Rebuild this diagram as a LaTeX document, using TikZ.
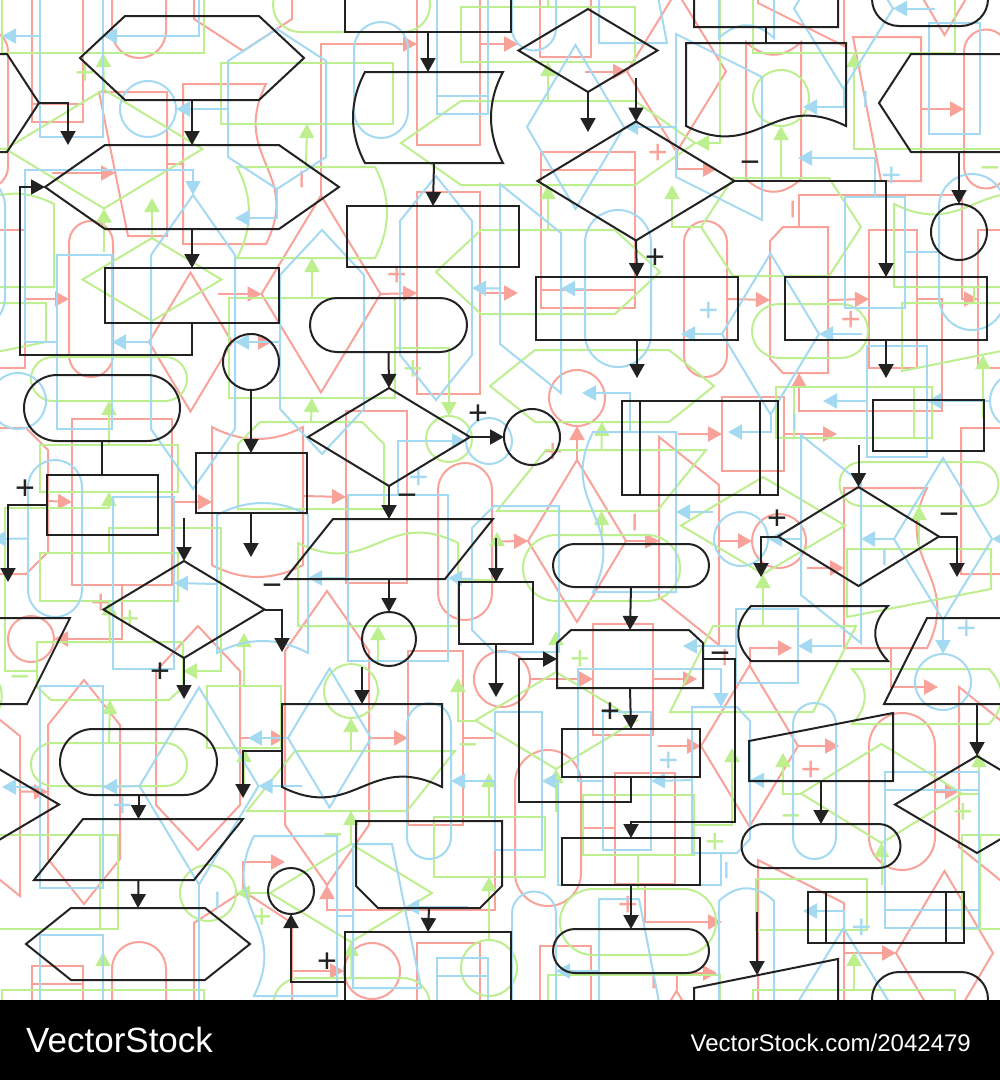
\documentclass[tikz,border=0pt]{standalone}
\usepackage{fontspec}
\usepackage{tikz}
\usetikzlibrary{shapes.geometric,shapes.misc,arrows.meta}
\newfontfamily\stockfont{Liberation Sans}
\definecolor{inkline}{HTML}{222222}
\definecolor{pinkline}{HTML}{F8A29A}
\definecolor{greenline}{HTML}{BEEF8F}
\definecolor{blueline}{HTML}{A4DAF1}

% one 1000 x 1000 tile of the pattern
\newcommand{\flowtile}{%
  % hexagons
  \node[slot={224}{84}] (hexTop) at (192,58) {};
  \draw[outline] (125,16) -- (259,16) -- (304,58) -- (259,100) -- (125,100) -- (80,58) -- cycle;
  \node[slot={294}{84}] (hexBig) at (192,187) {};
  \draw[outline] (105,145) -- (279,145) -- (339,187) -- (279,229) -- (105,229) -- (45,187) -- cycle;
  \node[slot={160}{98}] (hexR) at (959,103) {};
  \draw[outline] (911,54) -- (1007,54) -- (1039,103) -- (1007,152) -- (911,152) -- (879,103) -- cycle;
  \node[slot={224}{72}] (hexB) at (138,944) {};
  \draw[outline] (71,908) -- (205,908) -- (250,944) -- (205,980) -- (71,980) -- (26,944) -- cycle;
  % cut corners
  \node[slot={146}{58}] (octA) at (630,659) {};
  \draw[outline] (557,688) -- (557,643) -- (571,630) -- (689,630) -- (703,643) -- (703,688) -- cycle;
  \node[slot={146}{87}] (octB) at (429,864.5) {};
  \draw[outline] (356,821) -- (502,821) -- (502,886) -- (480,908) -- (378,908) -- (356,886) -- cycle;
  % parallelograms and manual inputs
  \node[slot={208}{60}] (paraA) at (389,549) {};
  \draw[outline] (333,519) -- (493,519) -- (445,579) -- (285,579) -- cycle;
  \node[slot={209}{61}] (paraB) at (138.5,849.5) {};
  \draw[outline] (83,819) -- (243,819) -- (194,880) -- (34,880) -- cycle;
  \node[slot={186}{86}] (paraR) at (977,661) {};
  \draw[outline] (927,618) -- (1070,618) -- (1027,704) -- (884,704) -- cycle;
  \node[slot={144}{68}] (trapE) at (821,747) {};
  \draw[outline] (749,781) -- (749,741) -- (893,713) -- (893,781) -- cycle;
  \node[slot={144}{68}] (trapTop) at (766,993) {};
  \draw[outline] (694,1027) -- (694,988) -- (838,959) -- (838,1027) -- cycle;
  % curved sides and documents
  \node[slot={138}{91}] (dispA) at (434,117.5) {};
  \draw[outline] (365,72) -- (503,72) .. controls (487,102) and (487,133) .. (503,163) -- (365,163) .. controls (349,133) and (349,102) .. (365,72) -- cycle;
  \node[slot={137}{55}] (dispB) at (819.5,633.5) {};
  \draw[outline] (751,606) -- (888,606) .. controls (871,624) and (871,643) .. (888,661) -- (751,661) .. controls (734,643) and (734,624) .. (751,606) -- cycle;
  \node[slot={160}{94}] (docR) at (766,1090) {};
  \draw[outline] (686,1043) -- (846,1043) -- (846,1126) .. controls (773,1090) and (758,1162) .. (686,1126) -- cycle;
  \node[slot={160}{93}] (docM) at (362,750.5) {};
  \draw[outline] (282,704) -- (442,704) -- (442,787) .. controls (369,751) and (354,823) .. (282,787) -- cycle;
  % boxes
  \node[box={174}{55}] (rectA) at (192,295.5) {};
  \node[box={172}{61}] (rectB) at (433,236.5) {};
  \node[box={202}{63}] (rectC) at (637,308.5) {};
  \node[box={202}{63}] (rectD) at (886,308.5) {};
  \node[box={74}{62}] (rectE) at (496,613) {};
  \node[box={138}{48}] (rectF) at (631,753) {};
  \node[box={138}{47}] (rectG) at (631,861.5) {};
  \node[box={111}{51}] (rectH) at (928.5,425.5) {};
  \node[box={111}{60}] (rectL) at (102,505) {};
  \node[box={111}{60}] (rectM) at (251,483) {};
  \node[box={166}{100}] (rectBot) at (428,982) {};
  \node[box={156}{94}] (dblA) at (700,448) {};
  \draw[outline] (640,401) -- (640,495) (760,401) -- (760,495);
  \node[box={156}{51}] (dblB) at (886,917.5) {};
  \draw[outline] (826,892) -- (826,943) (946,892) -- (946,943);
  % terminals
  \node[pill={157}{54}] (pillA) at (388.5,325) {};
  \node[pill={156}{43}] (pillB) at (631,565.5) {};
  \node[pill={156}{44}] (pillC) at (631,951) {};
  \node[pill={159}{44}] (pillD) at (821,846) {};
  \node[pill={156}{66}] (pillL) at (102,408) {};
  \node[pill={157}{66}] (pillM) at (138.5,762) {};
  \node[pill={116}{54}] (pillTR) at (930,999) {};
  % decisions
  \node[rhomb={139}{83}] (diaS) at (588,50.5) {};
  \node[rhomb={197}{119}] (diaL) at (636,181) {};
  \node[rhomb={162}{98}] (diaM) at (389,437) {};
  \node[rhomb={161}{99}] (diaR) at (858.5,536.5) {};
  \node[rhomb={161}{97}] (diaLL) at (184,609.5) {};
  \node[rhomb={164}{97}] (diaE) at (977,804.5) {};
  % connectors
  \node[ring=56] (circR) at (959,232) {};
  \node[ring=56] (circL) at (251,362) {};
  \node[ring=56] (circM) at (532,437) {};
  \node[ring=54] (circP) at (389,639) {};
  \node[ring=46] (circBL) at (291,891) {};
  % free ends
  \coordinate (endHR) at (1068,145);
  \coordinate (loopA) at (20,355);
  \coordinate (endBot) at (428,1072);
  \coordinate (endS) at (588,132);
  \coordinate (startL) at (636,78);
  \coordinate (endC) at (637,378);
  \coordinate (endD) at (886,378);
  \coordinate (startE) at (496,538);
  \coordinate (endE) at (496,697);
  \coordinate (loopF) at (519,802);
  \coordinate (loopO) at (735,822);
  \coordinate (startR) at (858.5,445);
  \coordinate (endRL) at (761,577);
  \coordinate (endRR) at (957,577);
  \coordinate (startTrap) at (757,912);
  \coordinate (trapIn) at (757,975);
  \coordinate (endL) at (8,582);
  \coordinate (endM) at (251,557);
  \coordinate (startLL) at (184,518);
  \coordinate (endLLr) at (282,652);
  \coordinate (endLLb) at (184,699);
  \coordinate (startM) at (362,667);
  \coordinate (endDoc) at (243,798);
  % flow lines
  \draw[flow] (hexTop.south) -- (hexBig.north);
  \draw[flow] (hexBig.south) -- (rectA.north);
  \draw[flow] (rectA.south) |- (loopA) |- (hexBig.west);
  \draw[flow] (hexR.east) -| (endHR);
  \draw[flow] (hexR.south) -- (circR.north);
  \draw[flow] (rectBot.south) -- (endBot);
  \draw[flow] (dispA.south) -- (rectB.north);
  \draw[flow] (diaS.south) -- (endS);
  \draw[flow] (startL) -- (diaL.north);
  \draw[flow] (diaL.south) -- (rectC.north);
  \draw[flow] (diaL.east) -| (rectD.north);
  \draw[flow] (rectC.south) -- (endC);
  \draw[flow] (rectD.south) -- (endD);
  \draw[flow] (rectBot.west) -| (circBL.south);
  \draw[flow] (pillA.south) -- (diaM.north);
  \draw[flow] (diaM.east) -- (circM.west);
  \draw[flow] (diaM.south) -- (paraA.north);
  \draw[flow] (paraA.south) -- (circP.north);
  \draw[flow] (startE) -- (rectE.north);
  \draw[flow] (rectE.south) -- (endE);
  \draw[flow] (pillB.south) -- (octA.north);
  \draw[flow] (octA.south) -- (rectF.north);
  \draw[flow] (rectF.south) |- (loopF) |- (octA.west);
  \draw[flow] (octA.east) -| (loopO) -| (rectG.north);
  \draw[flow] (rectG.south) -- (pillC.north);
  \draw[flow] (startR) -- (diaR.north);
  \draw[flow] (diaR.west) -| (endRL);
  \draw[flow] (diaR.east) -| (endRR);
  \draw[flow] (paraR.south) -- (diaE.north);
  \draw[flow] (trapE.south) -- (pillD.north);
  \draw[flow] (startTrap) -- (trapIn);
  \draw[outline] (trapTop.south) -- (docR.north);
  \draw[outline] (pillL.south) -- (rectL.north);
  \draw[flow] (rectL.west) -| (endL);
  \draw[flow] (circL.south) -- (rectM.north);
  \draw[flow] (rectM.south) -- (endM);
  \draw[flow] (startLL) -- (diaLL.north);
  \draw[flow] (diaLL.east) -| (endLLr);
  \draw[flow] (diaLL.south) -- (endLLb);
  \draw[flow] (pillM.south) -- (paraB.north);
  \draw[flow] (paraB.south) -- (hexB.north);
  \draw[flow] (startM) -- (docM.north);
  \draw[flow] (docM.west) -| (endDoc);
  \draw[flow] (octB.south) -- (rectBot.north);
  % branch signs
  \node[signtext] (plusL) at (655,259) {+};
  \node[signtext] (minusL) at (750,167) {−};
  \node[signtext] (plusM) at (478,415) {+};
  \node[signtext] (minusM) at (407,500) {−};
  \node[signtext] (plusRL) at (25,490) {+};
  \node[signtext] (minusLL) at (272,590) {−};
  \node[signtext] (plusLL) at (160,673) {+};
  \node[signtext] (plusBL) at (327,963) {+};
  \node[signtext] (plusF) at (610,713) {+};
  \node[signtext] (minusO) at (720,658) {−};
  \node[signtext] (plusR) at (777,520) {+};
  \node[signtext] (minusR) at (949,519) {−};
}

\begin{document}
\begin{tikzpicture}[
    x=1pt, y=-1pt,
    outline/.style={line width=2pt},
    slot/.style 2 args={rectangle, inner sep=0pt, outer sep=0pt, minimum width=#1pt, minimum height=#2pt},
    box/.style 2 args={slot={#1}{#2}, draw, outline},
    pill/.style 2 args={box={#1}{#2}, rounded rectangle},
    rhomb/.style 2 args={box={#1}{#2}, diamond},
    ring/.style={draw, outline, circle, inner sep=0pt, outer sep=0pt, minimum size=#1pt},
    flow/.style={outline, -{Triangle[width=15pt,length=14pt]}},
    signtext/.style={font=\stockfont\fontsize{34}{34}\selectfont, inner sep=0pt}
]
\useasboundingbox (0,0) rectangle (1000,1080);
\fill[white] (0,0) rectangle (1000,1000);

% pattern layers: three turned colour copies, then the black one
\begin{scope}
  \clip (0,0) rectangle (1000,1000);
  \foreach \ang/\dx/\dy/\col in {90/140/930/pinkline, 180/740/330/greenline, -90/380/150/blueline, 0/0/0/inkline} {
    \foreach \i in {-1,0,1} {
      \foreach \j in {-1,0,1} {
        \begin{scope}[shift={({\i*1000+\dx},{\j*1000+\dy})}, rotate around={\ang:(500,500)}, transform shape, color=\col]
          \flowtile
        \end{scope}
      }
    }
  }
\end{scope}

% footer bar
\fill[black] (0,1000) rectangle (1000,1080);
\node[anchor=base west, inner sep=0pt, text=white, font=\stockfont\fontsize{35}{35}\selectfont] (brand) at (26,1052) {VectorStock};
\node[anchor=base east, inner sep=0pt, text=white, font=\stockfont\fontsize{24}{24}\selectfont] (stockid) at (971,1051) {VectorStock.com/2042479};
\end{tikzpicture}
\end{document}
